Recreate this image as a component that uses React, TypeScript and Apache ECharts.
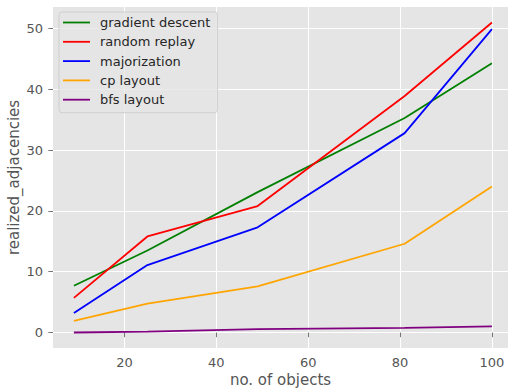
import React, { useEffect, useRef } from "react";
import * as echarts from "echarts";

// Number of objects in each run
const objectCounts = [9, 25, 49, 81, 100];

// Realized adjacencies per layout method
const gradientDescent = [7.7, 13.5, 23.1, 35.3, 44.3];
const randomReplay = [5.7, 15.8, 20.8, 38.9, 51.0];
const majorization = [3.2, 11.1, 17.3, 32.8, 49.9];
const cpLayout = [1.9, 4.75, 7.6, 14.6, 24.0];
const bfsLayout = [0.0, 0.16, 0.54, 0.77, 1.0];

const xTicks = [20, 40, 60, 80, 100];
const yTicks = [0, 10, 20, 30, 40, 50];

const seriesDefs = [
  { name: "gradient descent", color: "#008000", values: gradientDescent },
  { name: "random replay", color: "#ff0000", values: randomReplay },
  { name: "majorization", color: "#0000ff", values: majorization },
  { name: "cp layout", color: "#ffa500", values: cpLayout },
  { name: "bfs layout", color: "#800080", values: bfsLayout },
];

const FONT = "DejaVu Sans";

export default function App() {
  const ref = useRef<HTMLDivElement>(null);

  useEffect(() => {
    if (!ref.current) return;
    const chart = echarts.init(ref.current, undefined, { renderer: "svg" });
    const tickColor = "#555555";
    chart.setOption({
      animation: false,
      backgroundColor: "#ffffff",
      grid: {
        left: 53,
        right: 0,
        top: 7,
        bottom: 44,
        containLabel: false,
        outerBoundsMode: "none",
        show: true,
        backgroundColor: "#e5e5e5",
        borderWidth: 0,
      },
      legend: {
        left: 59,
        top: 12,
        orient: "vertical",
        icon: "rect",
        itemWidth: 27,
        itemHeight: 1.8,
        itemGap: 6.3,
        padding: [4, 7, 6.5, 4],
        backgroundColor: "rgba(229,229,229,0.8)",
        borderColor: "#cfcfcf",
        borderWidth: 1,
        borderRadius: 3,
        textStyle: {
          fontFamily: FONT,
          fontSize: 13,
          color: "#262626",
          padding: [0, 0, 0, 5],
        },
        data: seriesDefs.map((s) => s.name),
      },
      xAxis: {
        type: "value",
        min: 4.45,
        max: 103.5,
        name: "no. of objects",
        nameLocation: "middle",
        nameGap: 24,
        nameMoveOverlap: false,
        nameTextStyle: { fontFamily: FONT, fontSize: 15, color: tickColor },
        axisLine: { show: false },
        axisTick: {
          show: true,
          inside: false,
          length: 4.7,
          customValues: xTicks,
          lineStyle: { color: tickColor, width: 0.8 },
        },
        axisLabel: {
          customValues: xTicks,
          margin: 8,
          fontFamily: FONT,
          fontSize: 13,
          color: tickColor,
        },
        splitLine: {
          show: true,
          lineStyle: { color: "#ffffff", width: 1 },
        },
      },
      yAxis: {
        type: "value",
        min: -2.55,
        max: 53.55,
        name: "realized_adjacencies",
        nameLocation: "middle",
        nameGap: 32,
        nameMoveOverlap: false,
        nameTextStyle: { fontFamily: FONT, fontSize: 15, color: tickColor },
        axisLine: { show: false },
        axisTick: {
          show: true,
          inside: false,
          length: 4.7,
          customValues: yTicks,
          lineStyle: { color: tickColor, width: 0.8 },
        },
        axisLabel: {
          customValues: yTicks,
          margin: 10,
          fontFamily: FONT,
          fontSize: 13,
          color: tickColor,
        },
        splitLine: {
          show: true,
          lineStyle: { color: "#ffffff", width: 1 },
        },
      },
      series: seriesDefs.map((s) => ({
        name: s.name,
        type: "line",
        symbol: "none",
        showSymbol: false,
        color: s.color,
        itemStyle: { color: s.color },
        lineStyle: { color: s.color, width: 1.8 },
        data: objectCounts.map((x, i) => [x, s.values[i]]),
      })),
    });
    return () => chart.dispose();
  }, []);

  return (
    <div
      ref={ref}
      style={{ position: "fixed", left: 0, top: 0, width: 508, height: 392 }}
    />
  );
}
